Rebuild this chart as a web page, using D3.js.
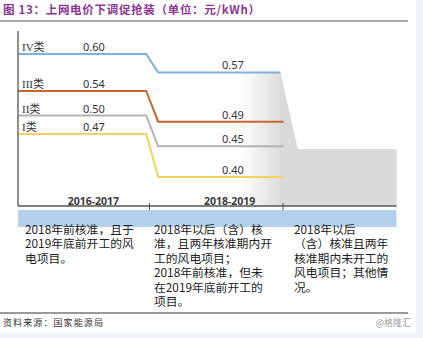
<!DOCTYPE html>
<html>
<head>
<meta charset="utf-8">
<script src="https://cdn.jsdelivr.net/npm/d3@7/dist/d3.min.js"></script>
<style>
  html, body { margin: 0; padding: 0; background: #eef4fa; }
  svg { display: block; }
</style>
</head>
<body>
<svg id="chart" width="423" height="338"></svg>
<script>
// Feed-in tariff by resource class (yuan/kWh)
const classes = ["IV类", "III类", "II类", "I类"];
const price20162017 = [0.60, 0.54, 0.50, 0.47];
const price20182019 = [0.57, 0.49, 0.45, 0.40];
const lineColors = ["#7fb0da", "#c8652f", "#b3b3b3", "#f2d35c"];
const periods = ["2016-2017", "2018-2019"];

// Eligibility notes under each period
const notes = [
  ["2018年前核准，且于", "2019年底前开工的风", "电项目。"],
  ["2018年以后（含）核", "准，且两年核准期内开", "工的风电项目；", "2018年前核准，但未", "在2019年底前开工的", "项目。"],
  ["2018年以后", "（含）核准且两年", "核准期内未开工的", "风电项目；其他情", "况。"]
];

const titleText = "图 13：上网电价下调促抢装（单位：元/kWh）";
const sourceText = "资料来源：国家能源局";
const markText = "@格隆汇";

const svg = d3.select("#chart");
const cjk = "'Noto Sans CJK SC', 'Noto Sans', sans-serif";

// white panel
svg.append("rect").attr("x", 0).attr("y", 0).attr("width", 416).attr("height", 333).attr("fill", "#ffffff");

// scales: x over period index, y over price
const x = d3.scaleLinear().domain([0, 2]).range([16, 283]);
const y = d3.scaleLinear().domain([0.40, 0.60]).range([177, 54]);
const axisY = 206;

// gradient fill for the later-period shade
const defs = svg.append("defs");
const grad = defs.append("linearGradient").attr("id", "shade")
  .attr("gradientUnits", "userSpaceOnUse")
  .attr("x1", x(1.68)).attr("x2", x(1.98)).attr("y1", 0).attr("y2", 0);
grad.append("stop").attr("offset", 0).attr("stop-color", "#ffffff");
grad.append("stop").attr("offset", 1).attr("stop-color", "#dcdcdc");

const topY = y(price20182019[0]);
const shelfY = y(0.445);
svg.append("path")
  .attr("d", `M${x(1.68)},${topY} L${x(1.98)},${topY} L${x(2.11)},${shelfY} L${x(2.85)},${shelfY} L${x(2.85)},${axisY} L${x(1.68)},${axisY} Z`)
  .attr("fill", "url(#shade)");
svg.append("rect")
  .attr("x", x(2.0)).attr("y", shelfY)
  .attr("width", x(2.85) - x(2.0)).attr("height", axisY - shelfY)
  .attr("fill", "#dadada");
svg.append("path")
  .attr("d", `M${x(1.98)},${topY} L${x(2.11)},${shelfY} L${x(2.11)},${axisY} L${x(1.98)},${axisY} Z`)
  .attr("fill", "#dadada");

// title
svg.append("text")
  .attr("x", 3).attr("y", 14)
  .attr("font-family", cjk).attr("font-size", 11.5).attr("font-weight", "bold")
  .attr("letter-spacing", 0.7)
  .attr("fill", "#8a3790")
  .text(titleText);
svg.append("line").attr("x1", 0).attr("x2", 408).attr("y1", 21).attr("y2", 21)
  .attr("stroke", "#8c8c8c").attr("stroke-width", 1.5);

// step lines
const line = d3.line().x(d => x(d[0])).y(d => y(d[1]));
classes.forEach((c, i) => {
  const endX = i === 0 ? 1.98 : 2.005;
  const pts = [[0.015, price20162017[i]], [0.975, price20162017[i]], [1.065, price20182019[i]], [endX, price20182019[i]]];
  svg.append("path").datum(pts)
    .attr("d", line)
    .attr("fill", "none")
    .attr("stroke", lineColors[i])
    .attr("stroke-width", 2);
});

// class labels and values
const labelFont = "'Noto Sans', 'Noto Sans CJK SC', sans-serif";
classes.forEach((c, i) => {
  svg.append("text")
    .attr("x", 22).attr("y", y(price20162017[i]) - 3)
    .attr("font-family", "'Liberation Serif', 'Noto Sans CJK SC', serif")
    .attr("font-size", 11).attr("fill", "#333")
    .text(c);
  svg.append("text")
    .attr("x", 83).attr("y", y(price20162017[i]) - 3)
    .attr("font-family", labelFont).attr("font-size", 11).attr("fill", "#333")
    .text(price20162017[i].toFixed(2));
  svg.append("text")
    .attr("x", 222).attr("y", y(price20182019[i]) - 3)
    .attr("font-family", labelFont).attr("font-size", 11).attr("fill", "#333")
    .text(price20182019[i].toFixed(2));
});

// axes
svg.append("line").attr("x1", 18).attr("x2", 18).attr("y1", 31).attr("y2", axisY)
  .attr("stroke", "#555").attr("stroke-width", 1.3);
svg.append("line").attr("x1", 18).attr("x2", x(2.85)).attr("y1", axisY).attr("y2", axisY)
  .attr("stroke", "#555").attr("stroke-width", 1.3);
[1, 2].forEach(t => {
  svg.append("line").attr("x1", x(t)).attr("x2", x(t)).attr("y1", axisY - 3).attr("y2", axisY + 6)
    .attr("stroke", "#555").attr("stroke-width", 1);
});
const periodCentre = [0.58, 1.6];
periods.forEach((p, i) => {
  svg.append("text")
    .attr("x", x(periodCentre[i])).attr("y", 204.5)
    .attr("text-anchor", "middle")
    .attr("font-family", labelFont).attr("font-size", 10.5).attr("font-weight", "bold")
    .attr("fill", "#3a3a3a")
    .text(p);
});

// blue band under the axis
svg.append("rect").attr("x", 18).attr("y", 210).attr("width", x(2.85) - 18).attr("height", 17)
  .attr("fill", "#b4d0ea");

// notes: one text block per column, one tspan per line
const noteX = [25, 154, 294];
notes.forEach((lines, i) => {
  const block = svg.append("text")
    .attr("x", noteX[i]).attr("y", 233.5)
    .attr("font-family", cjk).attr("font-size", 11.8).attr("fill", "#222");
  lines.forEach((t, j) => {
    block.append("tspan")
      .attr("x", noteX[i])
      .attr("dy", j === 0 ? 0 : 14.5)
      .text(t);
  });
});

// footer
svg.append("line").attr("x1", 0).attr("x2", 408).attr("y1", 313).attr("y2", 313)
  .attr("stroke", "#777").attr("stroke-width", 1.3);
svg.append("text")
  .attr("x", 3).attr("y", 326)
  .attr("font-family", cjk).attr("font-size", 9).attr("letter-spacing", 1.1)
  .attr("fill", "#333")
  .text(sourceText);
svg.append("text")
  .attr("x", 411).attr("y", 326).attr("text-anchor", "end")
  .attr("font-family", cjk).attr("font-size", 9)
  .attr("fill", "#9a9a9a")
  .text(markText);
</script>
</body>
</html>
